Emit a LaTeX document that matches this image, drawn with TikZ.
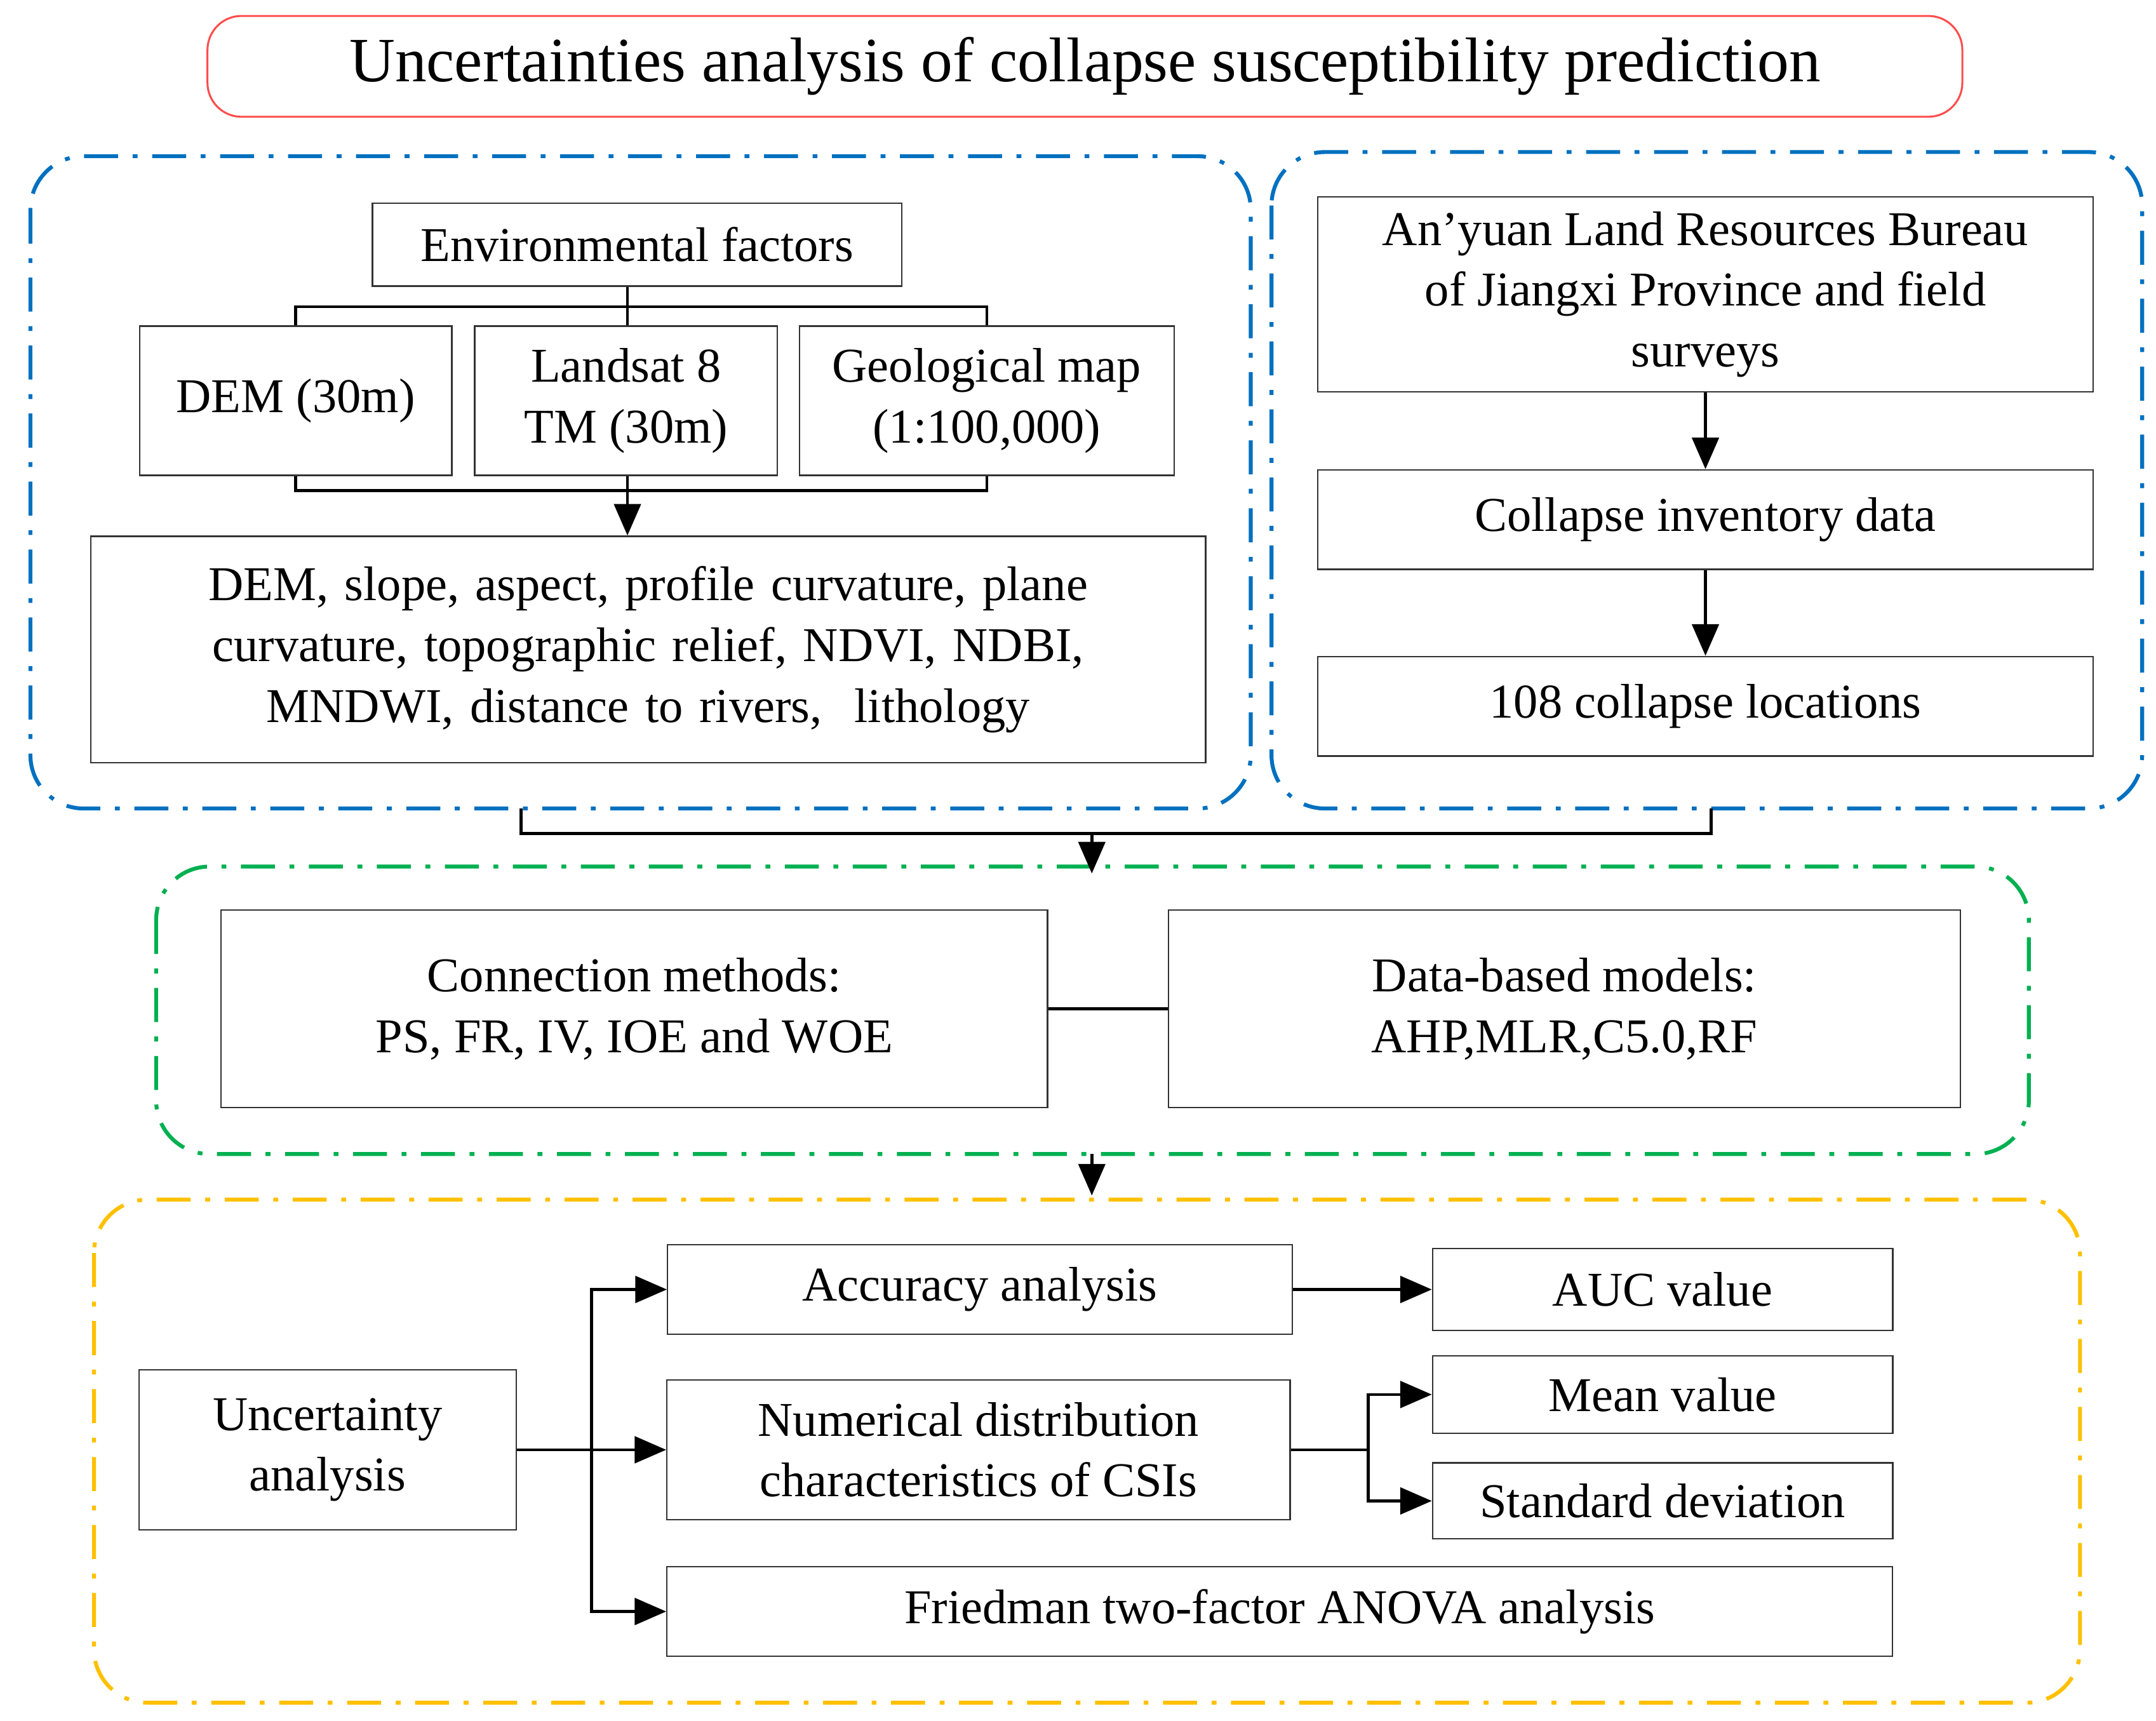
\documentclass[tikz,border=0pt]{standalone}
\usepackage{fontspec}
\setmainfont{Liberation Serif}
\usetikzlibrary{arrows.meta}
\definecolor{fblue}{RGB}{0,112,192}
\definecolor{fgreen}{RGB}{0,176,80}
\definecolor{forange}{RGB}{255,192,0}
\begin{document}
\begin{tikzpicture}[x=0.02cm,y=-0.02cm]
\tikzstyle{block} = [rectangle, draw=black!80, semithick, align=center, inner sep=2pt,
font=\fontsize{20}{25}\selectfont]
\tikzstyle{frame} = [draw, line width=1.6pt, rounded corners=22pt,
dash pattern=on 14pt off 6pt on 2pt off 6pt]
\tikzstyle{line} = [draw, line width=1.2pt, -{Triangle[length=13pt,width=11pt]}];
\tikzstyle{link} = [draw, line width=1.2pt];
\useasboundingbox (0,0) rectangle (1560,1245);
% frames
\node [draw=red!70, thick, rounded corners=14pt, minimum width=25.4cm, minimum height=1.46cm,
font=\fontsize{26}{30}\selectfont] (title) at (785,48) {Uncertainties analysis of collapse susceptibility prediction};
\draw [frame, fblue] (22,113) rectangle (905,585);
\draw [frame, fblue] (920,110) rectangle (1550,585);
\draw [frame, fgreen] (113,627) rectangle (1468,835);
\draw [frame, forange] (68,868) rectangle (1505,1232);
% left
\node [block, minimum width=7.66cm, minimum height=1.2cm] (env) at (461,177) {Environmental factors};
\node [block, minimum width=4.52cm, minimum height=2.16cm] (dem) at (214,290) {DEM (30m)};
\node [block, minimum width=4.38cm, minimum height=2.16cm] (land) at (453,290) {Landsat 8\\TM (30m)};
\node [block, minimum width=5.42cm, minimum height=2.16cm] (geo) at (714,290) {Geological map\\(1:100,000)};
\node [block, minimum width=16.14cm, minimum height=3.28cm, text width=15.4cm] (fac) at (469,470)
{DEM, slope, aspect, profile curvature, plane curvature, topographic relief, NDVI, NDBI, MNDWI, distance to rivers,\ \ lithology};
% right
\node [block, minimum width=11.22cm, minimum height=2.82cm] (bur) at (1234,213)
{An’yuan Land Resources Bureau\\of Jiangxi Province and field\\surveys};
\node [block, minimum width=11.22cm, minimum height=1.44cm] (inv) at (1234,376) {Collapse inventory data};
\node [block, minimum width=11.22cm, minimum height=1.44cm] (loc) at (1234,511) {108 collapse locations};
% middle
\node [block, minimum width=11.96cm, minimum height=2.86cm] (con) at (459,730) {Connection methods:\\PS, FR, IV, IOE and WOE};
\node [block, minimum width=11.46cm, minimum height=2.86cm] (mod) at (1132,730) {Data-based models:\\AHP,MLR,C5.0,RF};
% bottom
\node [block, minimum width=5.46cm, minimum height=2.32cm] (unc) at (237,1049) {Uncertainty\\analysis};
\node [block, minimum width=9.04cm, minimum height=1.3cm] (acc) at (709,933) {Accuracy analysis};
\node [block, minimum width=6.66cm, minimum height=1.18cm] (auc) at (1203,933) {AUC value};
\node [block, minimum width=9.02cm, minimum height=2.02cm] (num) at (708,1049) {Numerical distribution\\characteristics of CSIs};
\node [block, minimum width=6.66cm, minimum height=1.12cm] (mean) at (1203,1009) {Mean value};
\node [block, minimum width=6.66cm, minimum height=1.1cm] (sd) at (1203,1086) {Standard deviation};
\node [block, minimum width=17.74cm, minimum height=1.3cm] (fri) at (926,1166) {Friedman two-factor ANOVA analysis};
\coordinate (m) at (790,603);
\coordinate (top) at (454,222);
\coordinate (bot) at (454,355);
% connectors
\path [link] (dem.north) |- (top) -| (geo.north);
\path [link] (top) -- (env.south -| top);
\path [link] (top) -- (land.north -| top);
\path [link] (dem.south) |- (bot) -| (geo.south);
\path [link] (land.south -| bot) -- (bot);
\path [line] (bot) -- (fac.north -| bot);
\path [line] (bur) -- (inv);
\path [line] (inv) -- (loc);
\path [link] (377,585) |- (m) -| (1238,585);
\path [line] (m) -- (790,632);
\path [link] (con) -- (mod);
\path [line] (790,835) -- (790,865);
\path [link] (unc.east) -- (428,1049);
\path [line] (428,1049) |- (acc.west);
\path [line] (428,1049) |- (fri.west);
\path [line] (unc.east) -- (num.west);
\path [line] (acc) -- (auc);
\path [link] (num.east) -- (990,1049);
\path [line] (990,1049) |- (mean.west);
\path [line] (990,1049) |- (sd.west);
\end{tikzpicture}
\end{document}
